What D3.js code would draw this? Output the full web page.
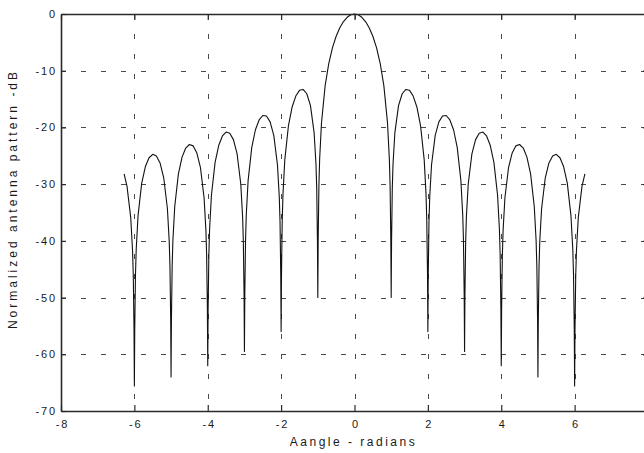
<!DOCTYPE html>
<html>
<head>
<meta charset="utf-8">
<script src="https://cdn.jsdelivr.net/npm/d3@7"></script>
<style>
  html, body { margin: 0; padding: 0; background: #fff; }
  svg { display: block; }
  text { font-family: "Liberation Sans", Arial, Helvetica, sans-serif; fill: #1a1a1a; }
</style>
</head>
<body>
<svg id="chart" width="644" height="453"></svg>
<script>
// Angle samples (radians) and normalized pattern level (dB), negative half
const anglesNeg = [
  -6.28, -6.2, -6.1, -6.05, -6.03, -6.01, -6,
  -5.99, -5.97, -5.95, -5.9, -5.8, -5.7, -5.6, -5.5, -5.4, -5.3, -5.2, -5.1, -5.05, -5.03, -5.01, -5,
  -4.99, -4.97, -4.95, -4.9, -4.8, -4.7, -4.6, -4.5, -4.4, -4.3, -4.2, -4.1, -4.05, -4.03, -4.01, -4,
  -3.99, -3.97, -3.95, -3.9, -3.8, -3.7, -3.6, -3.5, -3.4, -3.3, -3.2, -3.1, -3.05, -3.03, -3.01, -3,
  -2.99, -2.97, -2.95, -2.9, -2.8, -2.7, -2.6, -2.5, -2.4, -2.3, -2.2, -2.1, -2.05, -2.03, -2.01, -2,
  -1.99, -1.97, -1.95, -1.9, -1.8, -1.7, -1.6, -1.5, -1.4, -1.3, -1.2, -1.1, -1.05, -1.03, -1.01, -1,
  -0.99, -0.97, -0.95, -0.9, -0.8, -0.7, -0.6, -0.5, -0.4, -0.3, -0.2, -0.1
];
const levelsNeg = [
  -28.17, -30.41, -35.85, -41.69, -46.08, -55.58, -65.6,
  -55.55, -45.99, -41.54, -35.56, -29.83, -26.90, -25.35, -24.75, -25.03, -26.27, -28.88, -34.29, -40.12, -44.50, -54.00, -64.0,
  -53.97, -44.40, -39.95, -33.95, -28.19, -25.23, -23.64, -23.01, -23.25, -24.45, -27.03, -32.40, -38.20, -42.58, -52.07, -62.0,
  -52.02, -42.45, -37.99, -31.96, -26.16, -23.15, -21.51, -20.82, -21.01, -22.15, -24.67, -29.97, -35.74, -40.10, -49.57, -59.5,
  -49.52, -39.93, -35.45, -29.39, -23.51, -20.41, -18.68, -17.90, -17.99, -19.02, -21.41, -26.59, -32.29, -36.62, -46.07, -56.0,
  -45.98, -36.36, -31.85, -25.72, -19.67, -16.39, -14.47, -13.46, -13.30, -14.06, -16.15, -20.97, -26.48, -30.73, -40.09, -50.0,
  -39.91, -30.21, -25.61, -19.23, -12.62, -8.69, -5.94, -3.92, -2.42, -1.33, -0.58, -0.14
];

// Positive half, from boresight outwards
const anglesPos = [
  0, 0.1, 0.2, 0.3, 0.4, 0.5, 0.6, 0.7, 0.8, 0.9, 0.95, 0.97, 0.99, 1,
  1.01, 1.03, 1.05, 1.1, 1.2, 1.3, 1.4, 1.5, 1.6, 1.7, 1.8, 1.9, 1.95, 1.97, 1.99, 2,
  2.01, 2.03, 2.05, 2.1, 2.2, 2.3, 2.4, 2.5, 2.6, 2.7, 2.8, 2.9, 2.95, 2.97, 2.99, 3,
  3.01, 3.03, 3.05, 3.1, 3.2, 3.3, 3.4, 3.5, 3.6, 3.7, 3.8, 3.9, 3.95, 3.97, 3.99, 4,
  4.01, 4.03, 4.05, 4.1, 4.2, 4.3, 4.4, 4.5, 4.6, 4.7, 4.8, 4.9, 4.95, 4.97, 4.99, 5,
  5.01, 5.03, 5.05, 5.1, 5.2, 5.3, 5.4, 5.5, 5.6, 5.7, 5.8, 5.9, 5.95, 5.97, 5.99, 6,
  6.01, 6.03, 6.05, 6.1, 6.2, 6.28
];
const levelsPos = [
  0, -0.14, -0.58, -1.33, -2.42, -3.92, -5.94, -8.69, -12.62, -19.23, -25.61, -30.21, -39.91, -50.0,
  -40.09, -30.73, -26.48, -20.97, -16.15, -14.06, -13.30, -13.46, -14.47, -16.39, -19.67, -25.72, -31.85, -36.36, -45.98, -56.0,
  -46.07, -36.62, -32.29, -26.59, -21.41, -19.02, -17.99, -17.90, -18.68, -20.41, -23.51, -29.39, -35.45, -39.93, -49.52, -59.5,
  -49.57, -40.10, -35.74, -29.97, -24.67, -22.15, -21.01, -20.82, -21.51, -23.15, -26.16, -31.96, -37.99, -42.45, -52.02, -62.0,
  -52.07, -42.58, -38.20, -32.40, -27.03, -24.45, -23.25, -23.01, -23.64, -25.23, -28.19, -33.95, -39.95, -44.40, -53.97, -64.0,
  -54.00, -44.50, -40.12, -34.29, -28.88, -26.27, -25.03, -24.75, -25.35, -26.90, -29.83, -35.56, -41.54, -45.99, -55.55, -65.6,
  -55.58, -46.08, -41.69, -35.85, -30.41, -28.17
];

const xTicks = [-8, -6, -4, -2, 0, 2, 4, 6, 8];
const yTicks = [-70, -60, -50, -40, -30, -20, -10, 0];

const xTitle = "Aangle - radians";
const yTitle = "Normalized antenna pattern -dB";

// ---- drawing ----
const svg = d3.select("#chart");
const plotL = 61, plotR = 648, plotT = 14, plotB = 411;

const x = d3.scaleLinear().domain([-8, 8]).range([plotL, plotR]);
const y = d3.scaleLinear().domain([-70, 0]).range([plotB, plotT]);

// plain hyphen-minus tick labels
const fmt = d => String(d);

svg.append("rect").attr("width", 644).attr("height", 453).attr("fill", "#fff");

// dashed grid
const grid = svg.append("g").attr("stroke", "#4a4a4a").attr("stroke-width", 1)
  .attr("stroke-dasharray", "5,15");
grid.selectAll("line.v").data(xTicks.slice(1, -1)).join("line")
  .attr("class", "v")
  .attr("x1", d => Math.round(x(d)) + 0.5).attr("x2", d => Math.round(x(d)) + 0.5)
  .attr("y1", plotT).attr("y2", plotB);
grid.selectAll("line.h").data(yTicks.slice(1, -1)).join("line")
  .attr("class", "h")
  .attr("y1", d => Math.round(y(d)) + 0.5).attr("y2", d => Math.round(y(d)) + 0.5)
  .attr("x1", plotL).attr("x2", plotR);

// pattern curve
const pts = anglesNeg.map((a, i) => [a, levelsNeg[i]])
  .concat(anglesPos.map((a, i) => [a, levelsPos[i]]));
const line = d3.line().x(d => x(d[0])).y(d => y(d[1]));
svg.append("path").datum(pts)
  .attr("d", line)
  .attr("fill", "none")
  .attr("stroke", "#111")
  .attr("stroke-width", 1.1)
  .attr("stroke-linejoin", "round");

// axes (box with inward ticks)
const tickLs = 1.8;
const styleAxis = g => {
  g.select(".domain").attr("stroke", "#2a2a2a").attr("stroke-width", 1.6);
  g.selectAll(".tick line").attr("stroke", "#2a2a2a").attr("stroke-width", 1.2);
  g.selectAll(".tick text").attr("font-size", 11).attr("fill", "#1a1a1a")
    .attr("font-family", "Liberation Sans, Arial, sans-serif")
    .style("letter-spacing", tickLs + "px");
};

svg.append("g").attr("transform", `translate(0,${plotB})`)
  .call(d3.axisBottom(x).tickValues(xTicks).tickSizeInner(-6).tickSizeOuter(0)
    .tickPadding(9).tickFormat(fmt))
  .call(styleAxis)
  .call(g => g.selectAll(".tick text").attr("dx", tickLs / 2));

svg.append("g").attr("transform", `translate(0,${plotT})`)
  .call(d3.axisTop(x).tickValues(xTicks).tickSizeInner(-6).tickSizeOuter(0).tickFormat(""))
  .call(styleAxis);

svg.append("g").attr("transform", `translate(${plotL},0)`)
  .call(d3.axisLeft(y).tickValues(yTicks).tickSizeInner(-5).tickSizeOuter(0)
    .tickPadding(6 - tickLs).tickFormat(fmt))
  .call(styleAxis);

svg.append("g").attr("transform", `translate(${plotR},0)`)
  .call(d3.axisRight(y).tickValues(yTicks).tickSizeInner(-5).tickSizeOuter(0).tickFormat(""))
  .call(styleAxis);

// axis titles
svg.append("text")
  .attr("x", (plotL + plotR) / 2 - 1).attr("y", 446)
  .attr("text-anchor", "middle")
  .attr("font-size", 12)
  .style("letter-spacing", "2.5px")
  .text(xTitle);

svg.append("text")
  .attr("transform", "translate(17,199) rotate(-90)")
  .attr("text-anchor", "middle")
  .attr("font-size", 12)
  .style("letter-spacing", "3px")
  .text(yTitle);
</script>
</body>
</html>
